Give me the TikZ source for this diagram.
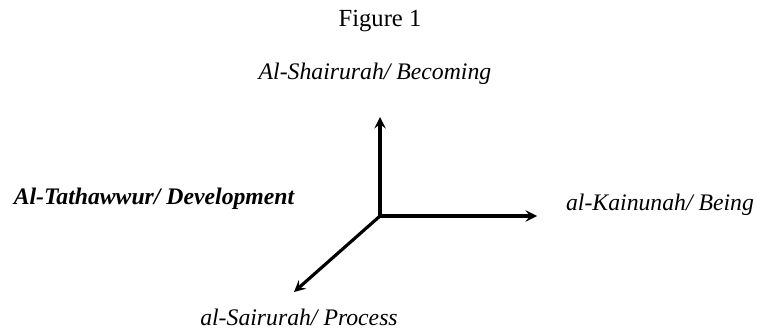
\documentclass[tikz,border=0pt]{standalone}
\usepackage{fontspec}
\setmainfont{Liberation Serif}
\usepackage{tikz}
\usetikzlibrary{arrows,positioning}

\begin{document}
\begin{tikzpicture}[
        x=0.02cm, y=-0.02cm,
        axislabel/.style={font=\fontsize{13.5}{15}\selectfont\itshape, inner sep=0pt},
        boldlabel/.style={font=\fontsize{13.5}{15}\selectfont\bfseries\itshape, inner sep=0pt},
        arr/.style={line width=1.8pt, ->, >=stealth}
    ]
        \useasboundingbox (0,0) rectangle (757,328);
        % Nodes
        \node[font=\fontsize{14}{16}\selectfont] (title) at (380, 21) {Figure 1};
        \node[axislabel] (becoming) at (375, 74) {Al-Shairurah/ Becoming};
        \node[boldlabel] (development) at (154, 199) {Al-Tathawwur/ Development};
        \node[axislabel] (being) at (660, 205) {al-Kainunah/ Being};
        \node[axislabel] (process) at (299, 317) {al-Sairurah/ Process};

        \coordinate (origin) at (380, 216);
        \coordinate (uptip) at (380, 117);
        \coordinate (righttip) at (537, 216);
        \coordinate (downtip) at (294, 292);

        % Connectors
        \draw[arr] (origin) -- (uptip);
        \draw[arr] (origin) -- (righttip);
        \draw[arr] (origin) -- (downtip);
    \end{tikzpicture}
\end{document}
